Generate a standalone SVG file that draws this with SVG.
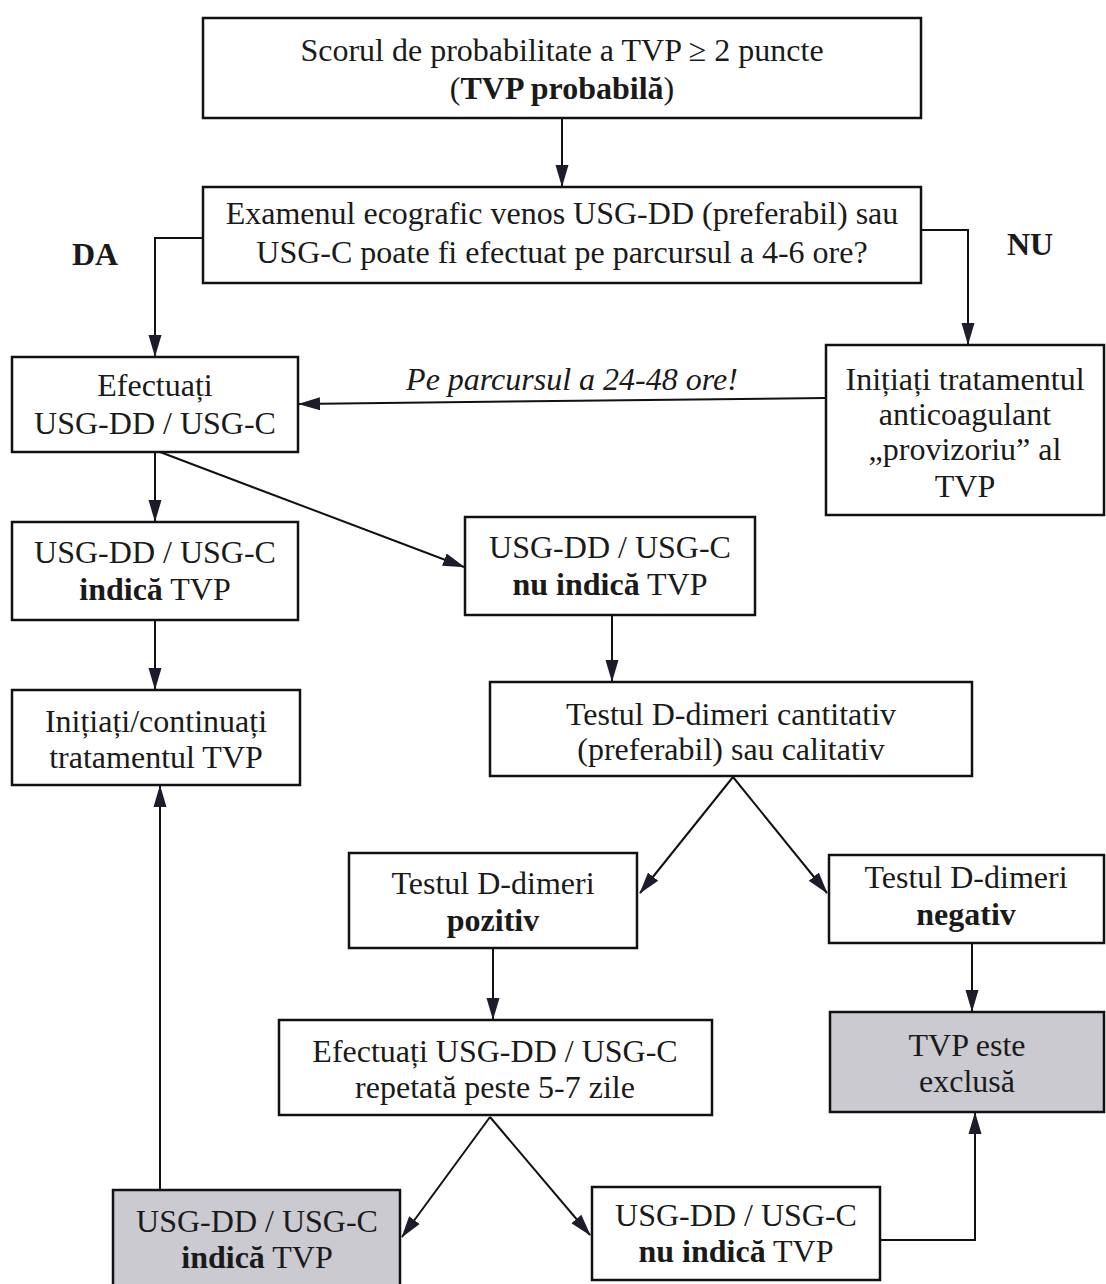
<svg xmlns="http://www.w3.org/2000/svg" width="1106" height="1284" viewBox="0 0 1106 1284">
<style>
.box{fill:#fff;stroke:#111;stroke-width:2.5}
.gray{fill:#cacad0;stroke:#111;stroke-width:2.5}
.t{font-family:"Liberation Serif","Times New Roman",serif;font-size:32px;fill:#1a1a1a;text-anchor:middle}
.b{font-weight:bold}
.i{font-style:italic}
.c{fill:none;stroke:#111;stroke-width:2}
</style>
<defs>
<marker id="ah" markerUnits="userSpaceOnUse" markerWidth="22" markerHeight="16" viewBox="0 0 22 16" refX="21" refY="8" orient="auto">
<path d="M0,1.5 L22,8 L0,14.5 Z" fill="#1c1c2a"/>
</marker>
</defs>
<rect width="1106" height="1284" fill="#fff"/>
<g id="connectors">
<line class="c" x1="562" y1="118" x2="562" y2="186" marker-end="url(#ah)"/>
<polyline class="c" points="203,238 155,238 155,356" marker-end="url(#ah)"/>
<polyline class="c" points="921,230 968,230 968,344" marker-end="url(#ah)"/>
<line class="c" x1="826" y1="398" x2="299" y2="404" marker-end="url(#ah)"/>
<line class="c" x1="155" y1="452" x2="155" y2="521" marker-end="url(#ah)"/>
<line class="c" x1="160" y1="452" x2="464" y2="567" marker-end="url(#ah)"/>
<line class="c" x1="155" y1="620" x2="155" y2="689" marker-end="url(#ah)"/>
<line class="c" x1="612" y1="615" x2="612" y2="681" marker-end="url(#ah)"/>
<line class="c" x1="733" y1="777" x2="640" y2="893" marker-end="url(#ah)"/>
<line class="c" x1="733" y1="777" x2="827" y2="893" marker-end="url(#ah)"/>
<line class="c" x1="493" y1="948" x2="493" y2="1019" marker-end="url(#ah)"/>
<line class="c" x1="972" y1="943" x2="972" y2="1011" marker-end="url(#ah)"/>
<line class="c" x1="490" y1="1117" x2="402" y2="1237" marker-end="url(#ah)"/>
<line class="c" x1="490" y1="1117" x2="590" y2="1235" marker-end="url(#ah)"/>
<polyline class="c" points="880,1240 975,1240 975,1113" marker-end="url(#ah)"/>
<line class="c" x1="160" y1="1190" x2="160" y2="786" marker-end="url(#ah)"/>
<text class="t i" x="572" y="390">Pe parcursul a 24-48 ore!</text>
<text class="t b" x="95" y="265">DA</text>
<text class="t b" x="1030" y="255">NU</text>
</g>
<g id="n1">
<rect class="box" x="203" y="18" width="718" height="100"/>
<text class="t" x="562" y="61">Scorul de probabilitate a TVP ≥ 2 puncte</text>
<text class="t" x="562" y="99">(<tspan class="b">TVP probabilă</tspan>)</text>
</g>
<g id="n2">
<rect class="box" x="203" y="187" width="718" height="96"/>
<text class="t" x="562" y="224">Examenul ecografic venos USG-DD (preferabil) sau</text>
<text class="t" x="562" y="263">USG-C poate fi efectuat pe parcursul a 4-6 ore?</text>
</g>
<g id="n3">
<rect class="box" x="12" y="357" width="286" height="95"/>
<text class="t" x="155" y="396">Efectuați</text>
<text class="t" x="155" y="434">USG-DD / USG-C</text>
</g>
<g id="n4">
<rect class="box" x="826" y="345" width="278" height="170"/>
<text class="t" x="965" y="390">Inițiați tratamentul</text>
<text class="t" x="965" y="425">anticoagulant</text>
<text class="t" x="965" y="460">„provizoriu” al</text>
<text class="t" x="965" y="497">TVP</text>
</g>
<g id="n5">
<rect class="box" x="12" y="522" width="286" height="98"/>
<text class="t" x="155" y="563">USG-DD / USG-C</text>
<text class="t" x="155" y="600"><tspan class="b">indică</tspan> TVP</text>
</g>
<g id="n6">
<rect class="box" x="465" y="517" width="290" height="98"/>
<text class="t" x="610" y="558">USG-DD / USG-C</text>
<text class="t" x="610" y="595"><tspan class="b">nu indică</tspan> TVP</text>
</g>
<g id="n7">
<rect class="box" x="12" y="690" width="288" height="95"/>
<text class="t" x="156" y="732">Inițiați/continuați</text>
<text class="t" x="156" y="768">tratamentul TVP</text>
</g>
<g id="n8">
<rect class="box" x="490" y="682" width="482" height="94"/>
<text class="t" x="731" y="725">Testul D-dimeri cantitativ</text>
<text class="t" x="731" y="760">(preferabil) sau calitativ</text>
</g>
<g id="n9">
<rect class="box" x="349" y="853" width="288" height="95"/>
<text class="t" x="493" y="894">Testul D-dimeri</text>
<text class="t b" x="493" y="931">pozitiv</text>
</g>
<g id="n10">
<rect class="box" x="829" y="855" width="275" height="88"/>
<text class="t" x="966" y="888">Testul D-dimeri</text>
<text class="t b" x="966" y="925">negativ</text>
</g>
<g id="n11">
<rect class="box" x="279" y="1020" width="433" height="95"/>
<text class="t" x="495" y="1062">Efectuați USG-DD / USG-C</text>
<text class="t" x="495" y="1098">repetată peste 5-7 zile</text>
</g>
<g id="n12">
<rect class="gray" x="830" y="1012" width="274" height="100"/>
<text class="t" x="967" y="1056">TVP este</text>
<text class="t" x="967" y="1092">exclusă</text>
</g>
<g id="n13">
<rect class="gray" x="113" y="1190" width="287" height="100"/>
<text class="t" x="257" y="1232">USG-DD / USG-C</text>
<text class="t" x="257" y="1268"><tspan class="b">indică</tspan> TVP</text>
</g>
<g id="n14">
<rect class="box" x="592" y="1187" width="288" height="93"/>
<text class="t" x="736" y="1226">USG-DD / USG-C</text>
<text class="t" x="736" y="1262"><tspan class="b">nu indică</tspan> TVP</text>
</g>
</svg>
